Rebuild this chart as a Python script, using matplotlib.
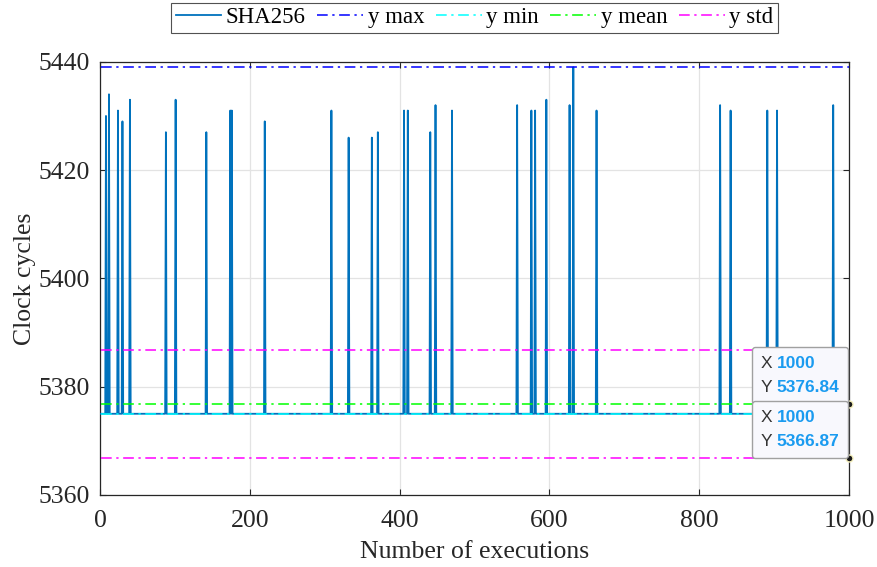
import numpy as np
import matplotlib
matplotlib.use("Agg")
import matplotlib.pyplot as plt
from matplotlib.offsetbox import TextArea, HPacker, VPacker, AnnotationBbox

plt.rcParams['font.family'] = ['Liberation Serif', 'DejaVu Serif']

# Data
n_exec = 1000
baseline = 5375
spike_idx = [8, 12, 24, 30, 40, 88, 101, 142, 174, 176, 220, 309, 332, 363, 371,
             406, 411, 441, 448, 470, 557, 576, 581, 596, 627, 632, 663,
             828, 842, 891, 904, 979]
spike_val = [5430, 5434, 5431, 5429, 5433, 5427, 5433, 5427, 5431, 5431, 5429, 5431,
             5426, 5426, 5427, 5431, 5431, 5427, 5432, 5431, 5432, 5431, 5431,
             5433, 5432, 5439, 5431, 5432, 5431, 5431, 5431, 5432]
y_max = 5439
y_min = 5375
y_mean = 5376.84
y_std_lo = 5366.87
y_std_hi = 5386.81

x = np.arange(1, n_exec + 1)
y = np.full(n_exec, baseline, dtype=float)
y[np.array(spike_idx) - 1] = spike_val

fig = plt.figure(figsize=(8.77, 5.67), dpi=100)
ax = fig.add_axes([0.114, 0.127, 0.854, 0.764])

dd = (0, (7, 3, 1.5, 3))
ax.plot(x, y, color='#0072BD', lw=1.3, label='SHA256', zorder=3)
ax.plot([x[0], x[-1]], [y_max, y_max], color='#0000ff', ls=dd, lw=1.1, label='y max', zorder=4)
ax.plot([x[0], x[-1]], [y_min, y_min], color='#00ffff', ls=dd, lw=1.1, label='y min', zorder=4)
ax.plot([x[0], x[-1]], [y_mean, y_mean], color='#00ff00', ls=dd, lw=1.1, label='y mean', zorder=4)
ax.plot([x[0], x[-1]], [y_std_hi, y_std_hi], color='#ff00ff', ls=dd, lw=1.1, label='y std', zorder=4)
ax.plot([x[0], x[-1]], [y_std_lo, y_std_lo], color='#ff00ff', ls=dd, lw=1.1, zorder=4)

ax.set_xlim(0, 1000)
ax.set_ylim(5360, 5440)
ax.set_xticks(np.arange(0, 1001, 200))
ax.set_yticks(np.arange(5360, 5441, 20))
ax.grid(True, color='#e3e3e3', lw=0.9)
ax.set_axisbelow(True)
ax.tick_params(direction='in', length=4, width=0.8, top=True, right=True,
               labelsize=18.5, colors='#262626')
ax.tick_params(axis='x', pad=11)
ax.tick_params(axis='y', pad=7)
for s in ax.spines.values():
    s.set_color('#262626')
    s.set_linewidth(0.9)
ax.set_xlabel('Number of executions', fontsize=18.5, color='#262626', labelpad=6)
ax.set_ylabel('Clock cycles', fontsize=18.5, color='#262626', labelpad=2)

leg = ax.legend(loc='lower center', bbox_to_anchor=(0.5, 1.067), ncol=5, fontsize=16.5,
                frameon=True, fancybox=False, handlelength=2.0, handletextpad=0.2,
                columnspacing=0.5, borderpad=0.2, borderaxespad=0)
leg.get_frame().set_edgecolor('#262626')
leg.get_frame().set_linewidth(0.8)

# data tips
for val in [y_mean, y_std_lo]:
    ax.plot([x[-1]], [val], 'o', ms=5, mfc='#1a1a1a', mec='#f3eebc', mew=1.0,
            clip_on=False, zorder=6)
    tp = dict(family='Liberation Sans', size=12.5)
    r1 = HPacker(children=[TextArea('X', textprops=dict(color='#333333', **tp)),
                           TextArea('%d' % x[-1], textprops=dict(color='#1a9bf0', weight='bold', **tp))],
                 sep=3, pad=0)
    r2 = HPacker(children=[TextArea('Y', textprops=dict(color='#333333', **tp)),
                           TextArea('%.2f' % val, textprops=dict(color='#1a9bf0', weight='bold', **tp))],
                 sep=3, pad=0)
    box = VPacker(children=[r1, r2], sep=7, pad=0, align='left')
    ab = AnnotationBbox(box, (x[-1], val), xybox=(-7, 6), boxcoords='offset points',
                        box_alignment=(1, 0), frameon=True, pad=0.62,
                        bboxprops=dict(boxstyle='round,pad=0.62,rounding_size=0.2',
                                       fc='#f8f8fd', ec='#a0a0a0', lw=1.0),
                        annotation_clip=False, zorder=7)
    ax.add_artist(ab)

fig.savefig('out.png', dpi=100)
